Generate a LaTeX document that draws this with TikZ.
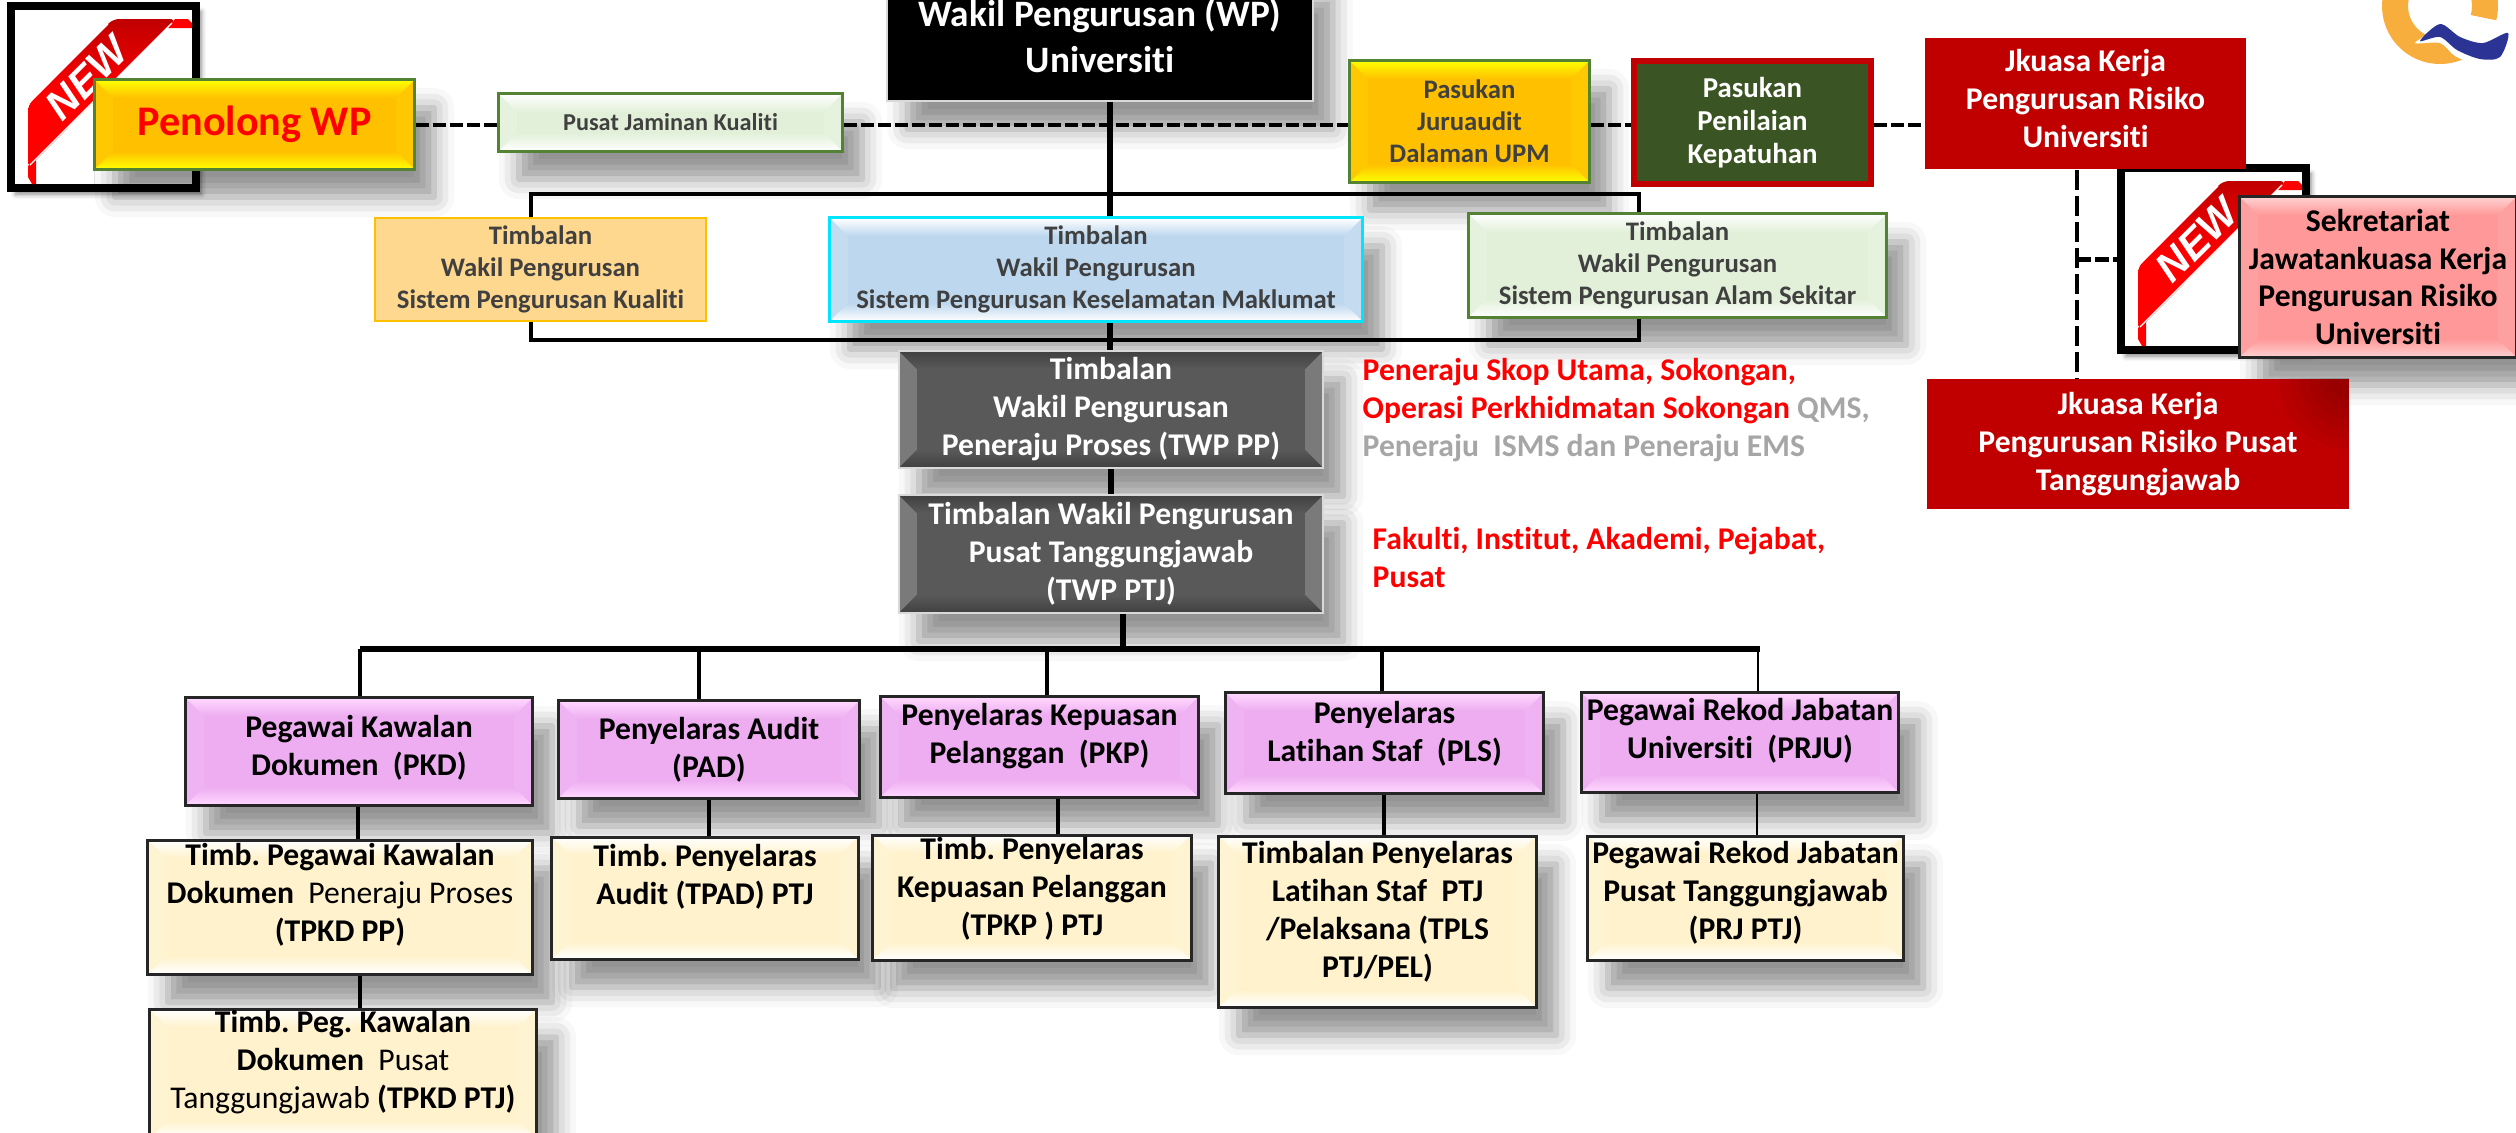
\documentclass[tikz,border=0pt]{standalone}
\usepackage{fontspec}
\setmainfont[Ligatures=NoCommon]{Carlito}
\newfontfamily\badgefont{Liberation Sans}
\usetikzlibrary{calc,positioning,shadows.blur}
\frenchspacing
\definecolor{darktext}{HTML}{404040}
\definecolor{greentrim}{HTML}{548235}
\definecolor{inkline}{HTML}{262626}
\definecolor{riskred}{HTML}{C00000}
\definecolor{softgrey}{HTML}{A6A6A6}
\definecolor{purplefill}{HTML}{EDADF0}
\definecolor{purpleedge}{HTML}{FFD8FF}
\definecolor{creamfill}{HTML}{FFF2CC}
\definecolor{greyfill}{HTML}{595959}
\definecolor{yellowfill}{HTML}{FFC000}
\definecolor{yellowedge}{HTML}{FFFF00}
\definecolor{sagefill}{HTML}{E2F0D9}
\definecolor{skyfill}{HTML}{BDD7EE}
\definecolor{pinkfill}{HTML}{FF9999}
\definecolor{pinkedge}{HTML}{FFD0D0}
\definecolor{peachfill}{HTML}{FFD88F}
\definecolor{mossfill}{HTML}{3A5523}
\definecolor{cyantrim}{HTML}{00E5FF}
\definecolor{logoorange}{HTML}{F7AE3C}
\definecolor{logoblue}{HTML}{2B3494}
\newcommand{\fbody}{\fontsize{9}{10.8}\selectfont\bfseries}
\newcommand{\fsmall}{\fontsize{7.6}{9.05}\selectfont\bfseries}
\newcommand{\fbig}{\fontsize{10.6}{13}\selectfont\bfseries}
\tikzset{
  softshadow/.style={blur shadow={shadow xshift=.2cm, shadow yshift=-.28cm,
    shadow blur radius=.2cm, shadow opacity=42}},
  % main colour, edge colour
  bevel/.style 2 args={
    path picture={
      \path (path picture bounding box.north west) coordinate (nw)
            (path picture bounding box.south east) coordinate (se)
            (nw -| se) coordinate (ne) (nw |- se) coordinate (sw);
      \fill[#1!88!#2] (nw) -- (sw) -- ($(sw)+(18,-18)$) -- ($(nw)+(18,18)$) -- cycle;
      \fill[#1!88!#2] (ne) -- (se) -- ($(se)+(-18,-18)$) -- ($(ne)+(-18,18)$) -- cycle;
      \shade[top color=#2, bottom color=#1]
        (nw) -- (ne) -- ($(ne)+(-18,18)$) -- ($(nw)+(18,18)$) -- cycle;
      \shade[top color=#1, bottom color=#2]
        (sw) -- (se) -- ($(se)+(-18,-18)$) -- ($(sw)+(18,-18)$) -- cycle;
    }},
  orgbox/.style={rectangle, align=center, inner sep=0pt, font=\fbody},
  topbox/.style={orgbox, font=\fsmall, text=darktext},
  purplebox/.style={orgbox, softshadow, fill=purplefill, draw=inkline, line width=.03cm,
    bevel={purplefill}{purpleedge}},
  creambox/.style={orgbox, softshadow, fill=creamfill, draw=inkline, line width=.03cm,
    bevel={creamfill}{white}},
  greybox/.style={orgbox, softshadow, fill=greyfill, draw=black!15, line width=.02cm,
    text=white, bevel={greyfill}{black!75}},
  redbox/.style={orgbox, fill=riskred, text=white},
  notetext/.style={anchor=north west, inner sep=0pt, align=left, font=\fbody, text=red},
  hardline/.style={draw=black, line width=.045cm},
  spineline/.style={draw=black, line width=.06cm},
  thinline/.style={draw=black, line width=.025cm},
  bracketline/.style={draw=black, line width=.035cm},
  dashline/.style={draw=black, line width=.045cm, dash pattern=on .13cm off .04cm},
  newbadge/.pic={
    \node (-frame) [draw=black, fill=white, line width=.08cm, minimum width=1.85cm,
      minimum height=1.82cm, inner sep=0pt,
      blur shadow={shadow xshift=.05cm, shadow yshift=-.06cm, shadow blur radius=.05cm,
      shadow opacity=50}] at (103.5,97) {};
    \fill[red] (175,19) -- (188,19) -- (192,23) -- (192,28) -- (168,28) -- cycle;
    \fill[red] (28,166) -- (28,177) -- (32,184) -- (36,184) -- (36,158) -- cycle;
    \shade[top color=riskred, bottom color=red, middle color=red, rounded corners=.06cm]
      (113,19) -- (176,19) -- (28,168) -- (28,105) -- cycle;
    \draw[white, line width=.012cm] (108,24) -- (30,102);
    \draw[white, line width=.012cm] (172,23) -- (30,165);
    \node (-label) [rotate=45, text=white, inner sep=0pt,
      font=\badgefont\fontsize{11.8}{14}\selectfont\bfseries\itshape] at (87,78) {NEW};
  },
}

\begin{document}
\begin{tikzpicture}[x=.01cm,y=-.01cm]
  \useasboundingbox (0,0) rectangle (2516,1132);

  % logo in the corner
  \draw[logoorange, line width=.26cm] plot[domain=62:375,samples=50]
    ({2440+45*cos(\x)},{6+45*sin(\x)});
  \fill[white] plot[smooth cycle] coordinates {(2415,43) (2440,30) (2460,44) (2483,50)
    (2510,40) (2500,63) (2478,65) (2455,56) (2440,43)};
  \fill[logoblue] plot[smooth cycle] coordinates {(2420,41) (2440,24) (2460,37) (2483,43)
    (2508,33) (2500,57) (2480,59) (2457,50) (2440,37)};

  \pic (badgeA) at (0,0) {newbadge};
  \pic (badgeB) at (2110,162) {newbadge};

  % top row
  \node (wp) [orgbox, softshadow, fill=black, draw=black!15, line width=.02cm, text=white,
    font=\fbig, minimum width=4.25cm, minimum height=1.3cm] at (1100,36)
    {Wakil Pengurusan (WP)\\Universiti};
  \node (penolong) [orgbox, softshadow, fill=yellowfill, draw=greentrim, line width=.03cm,
    bevel={yellowfill}{yellowedge}, text=red, font=\fontsize{12}{14}\selectfont\bfseries,
    minimum width=3.19cm, minimum height=.89cm] at (254.5,124.5) {Penolong WP};
  \node (pjk) [topbox, softshadow, fill=sagefill, draw=greentrim, line width=.03cm,
    bevel={sagefill}{white}, font=\fontsize{6.9}{8.5}\selectfont\bfseries,
    minimum width=3.43cm, minimum height=.57cm] at (670.5,122.5)
    {Pusat Jaminan Kualiti};
  \node (juru) [topbox, softshadow, fill=yellowfill, draw=greentrim, line width=.03cm,
    bevel={yellowfill}{yellowedge}, minimum width=2.39cm, minimum height=1.21cm] at (1469.5,121.5)
    {Pasukan\\Juruaudit\\Dalaman UPM};
  \node (nilai) [orgbox, font=\fontsize{8.2}{9.3}\selectfont\bfseries, fill=mossfill,
    draw=riskred, line width=.06cm, text=white,
    minimum width=2.37cm, minimum height=1.23cm] at (1752.5,122.5)
    {Pasukan\\Penilaian\\Kepatuhan};
  \node (jkuni) [redbox, text depth=.1cm, minimum width=3.21cm, minimum height=1.31cm] at (2085.5,103.5)
    {Jkuasa Kerja\\Pengurusan Risiko\\Universiti};
  \node (sekr) [orgbox, softshadow, fill=pinkfill, draw=inkline, line width=.03cm, text=black,
    bevel={pinkfill}{pinkedge}, minimum width=2.76cm, minimum height=1.6cm] at (2378,277)
    {Sekretariat\\Jawatankuasa Kerja\\Pengurusan Risiko\\Universiti};
  \node (jkptj) [redbox, minimum width=4.22cm, minimum height=1.3cm,
    path picture={\foreach \r in {.2,.3,.4,.5,.6,.7}
      \fill[black, opacity=.035] (path picture bounding box.north east) circle (\r cm);}]
    at (2138,444)
    {Jkuasa Kerja\\Pengurusan Risiko Pusat\\Tanggungjawab};

  % timbalan row
  \node (tsk) [topbox, fill=peachfill, draw=yellowfill, line width=.02cm,
    minimum width=3.31cm, minimum height=1.03cm] at (540.5,269.5)
    {Timbalan\\Wakil Pengurusan\\Sistem Pengurusan Kualiti};
  \node (tism) [topbox, softshadow, fill=skyfill, draw=cyantrim, line width=.03cm,
    bevel={skyfill}{white}, minimum width=5.32cm, minimum height=1.03cm] at (1096,269.5)
    {Timbalan\\Wakil Pengurusan\\Sistem Pengurusan Keselamatan Maklumat};
  \node (tal) [topbox, softshadow, fill=sagefill, draw=greentrim, line width=.03cm,
    bevel={sagefill}{white}, minimum width=4.17cm, minimum height=1.03cm] at (1677.5,265.5)
    {Timbalan\\Wakil Pengurusan\\Sistem Pengurusan Alam Sekitar};
  \node (twppp) [greybox, minimum width=4.24cm, minimum height=1.17cm] at (1111,409.5)
    {Timbalan\\Wakil Pengurusan\\Peneraju Proses (TWP PP)};
  \node (twpptj) [greybox, minimum width=4.24cm, minimum height=1.18cm] at (1111,554)
    {Timbalan Wakil Pengurusan\\Pusat Tanggungjawab\\(TWP PTJ)};

  % notes beside the grey boxes
  \node (noteA) [notetext] at (1362,358) {Peneraju Skop Utama, Sokongan,\\
    Operasi Perkhidmatan Sokongan {\color{softgrey}QMS,}\\
    {\color{softgrey}Peneraju\ \ ISMS dan Peneraju EMS}};
  \node (noteB) [notetext] at (1372,527) {Fakulti, Institut, Akademi, Pejabat,\\Pusat};

  % purple row
  \node (pkd) [purplebox, text depth=.13cm, minimum width=3.46cm, minimum height=1.07cm] at (359,751.5)
    {Pegawai Kawalan\\Dokumen\ \ (PKD)};
  \node (pad) [purplebox, minimum width=3.0cm, minimum height=.97cm] at (709,749.5)
    {Penyelaras Audit\\(PAD)};
  \node (pkp) [purplebox, text depth=.27cm, minimum width=3.17cm, minimum height=1.0cm] at (1039.5,747)
    {Penyelaras Kepuasan\\Pelanggan\ \ (PKP)};
  \node (pls) [purplebox, text depth=.23cm, minimum width=3.17cm, minimum height=1.0cm] at (1384.5,743)
    {Penyelaras\\Latihan Staf\ \ (PLS)};
  \node (prju) [purplebox, text depth=.29cm, minimum width=3.16cm, minimum height=.99cm] at (1740,742.5)
    {Pegawai Rekod Jabatan\\Universiti\ \ (PRJU)};

  % cream rows
  \node (tpkdpp) [creambox, text depth=.29cm, minimum width=3.84cm, minimum height=1.34cm,
    below=.32cm of pkd, xshift=-.19cm]
    {Timb. Pegawai Kawalan\\Dokumen\ \ {\mdseries Peneraju Proses}\\(TPKD PP)};
  \node (tpkdptj) [creambox, text depth=.29cm, minimum width=3.86cm, minimum height=1.29cm,
    below=.32cm of tpkdpp, xshift=.03cm]
    {Timb. Peg. Kawalan\\Dokumen\ \ {\mdseries Pusat}\\{\mdseries Tanggungjawab} (TPKD PTJ)};
  \node (tpad) [creambox, text depth=.1cm, minimum width=3.06cm, minimum height=1.22cm,
    below=.36cm of pad, xshift=-.04cm]
    {Timb. Penyelaras\\Audit (TPAD) PTJ\\\ };
  \node (tpkp) [creambox, text depth=.23cm, minimum width=3.18cm, minimum height=1.25cm,
    below=.35cm of pkp, xshift=-.075cm]
    {Timb. Penyelaras\\Kepuasan Pelanggan\\(TPKP )\ PTJ};
  \node (tpls) [creambox, text depth=.25cm, minimum width=3.17cm, minimum height=1.71cm,
    below=.4cm of pls, xshift=-.07cm]
    {Timbalan Penyelaras\\Latihan Staf\ \ PTJ\\/Pelaksana (TPLS\\PTJ/PEL)};
  \node (prjptj) [creambox, text depth=.15cm, minimum width=3.15cm, minimum height=1.24cm,
    below=.41cm of prju, xshift=.055cm]
    {Pegawai Rekod Jabatan\\Pusat Tanggungjawab\\(PRJ PTJ)};

  % connectors
  \coordinate (dashy) at (0,125);
  \coordinate (spine) at (1110,0);
  \draw[dashline] (penolong.east |- dashy) -- (pjk.west |- dashy);
  \draw[dashline] (pjk.east |- dashy) -- (juru.west |- dashy);
  \draw[dashline] (juru.east |- dashy) -- (nilai.west |- dashy);
  \draw[dashline] (nilai.east |- dashy) -- (jkuni.west |- dashy);
  \draw[spineline] (spine |- wp.south) -- (spine |- tism.north);
  \draw[spineline] (spine |- tism.south) -- (spine |- twppp.north);
  \draw[spineline] (twppp) -- (twpptj);

  \coordinate (brtl) at (531,194);
  \coordinate (brtr) at (1639,194);
  \coordinate (brbl) at (531,340);
  \coordinate (brbr) at (1639,340);
  \draw[bracketline] (tsk.north -| brtl) -- (brtl) -- (brtr) -- (tal.north -| brtr);
  \draw[bracketline] (tsk.south -| brbl) -- (brbl) -- (brbr) -- (tal.south -| brbr);

  \coordinate (busl) at (360,649);
  \coordinate (busr) at (1760,649);
  \coordinate (busdrop) at (1123,649);
  \draw[spineline] (twpptj.south -| busdrop) -- (busdrop);
  \draw[spineline] (busl) -- (busr);
  \foreach \kid/\dropx in {pkd/360,pad/699,pkp/1047,pls/1382}
    \draw[hardline] (\dropx,649) -- (\dropx,649 |- \kid.north);
  \draw[thinline] (1758,649) -- (1758,649 |- prju.north);
  \foreach \up/\kid/\linkx in {pkd/tpkdpp/358,tpkdpp/tpkdptj/360,pad/tpad/709,pkp/tpkp/1058,pls/tpls/1384}
    \draw[hardline] (\linkx,0 |- \up.south) -- (\linkx,0 |- \kid.north);
  \draw[thinline] (1757,0 |- prju.south) -- (1757,0 |- prjptj.north);

  \coordinate (riskx) at (2077,0);
  \draw[draw=black, line width=.045cm, dash pattern=on .2cm off .06cm]
    (riskx |- jkuni.south) -- (riskx |- jkptj.north);
  \draw[draw=black, line width=.05cm, dash pattern=on .14cm off .04cm]
    (riskx |- badgeB-frame.west) -- (badgeB-frame.west);
\end{tikzpicture}
\end{document}
